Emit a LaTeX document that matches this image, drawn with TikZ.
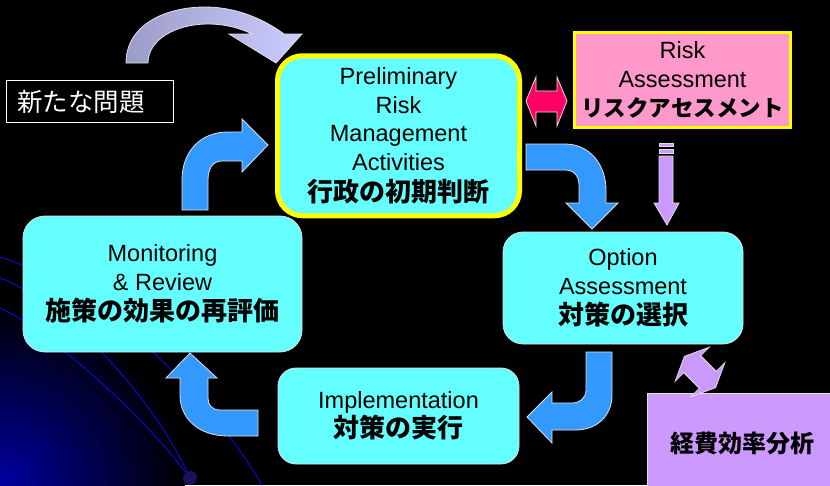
\documentclass[tikz,border=0pt]{standalone}
\usepackage{fontspec}
\setmainfont{Liberation Sans}
\newfontfamily\jpfont{Noto Sans CJK JP}
\newcommand\jpb[2]{{\jpfont\bfseries\fontsize{#1}{#1}\selectfont #2}}
\definecolor{cyanf}{HTML}{66FFFF}
\definecolor{pinkf}{HTML}{FF99CC}
\definecolor{pinkarrow}{HTML}{FF0066}
\definecolor{arrowblue}{HTML}{3399FF}
\definecolor{lav}{HTML}{CC99FF}
\definecolor{lavlight}{HTML}{CCCCFF}
\definecolor{lavdark}{HTML}{9C9CC8}
\definecolor{edgegray}{HTML}{E0E0E0}
\definecolor{navyc}{RGB}{0,0,160}
\definecolor{decoline}{RGB}{10,10,150}
\definecolor{dotc}{RGB}{20,20,90}
\definecolor{yel}{HTML}{FFFF00}
\begin{document}
\begin{tikzpicture}[x=1pt,y=-1pt,
  cbox/.style={draw=edgegray, fill=cyanf, line width=0.8pt, rounded corners=20pt,
    inner sep=0pt, align=center, text=black, font=\fontsize{23.5}{28.7}\selectfont},
  blockarrow/.style={fill=arrowblue, draw=edgegray, line width=0.8pt, line join=miter},
  lavarrow/.style={fill=lav, draw=edgegray, line width=0.8pt, line join=miter},
  deco/.style={draw=decoline, line width=1.4pt}]
\useasboundingbox (0,0) rectangle (830,485);
\fill[black] (0,0) rectangle (830,485);
\begin{scope}
  \clip (0,0) rectangle (830,485);
  \shade[inner color=navyc, outer color=black] (0,485) circle (185);
\end{scope}
% decorative background curves
\draw[deco] (0,257) .. controls (90,285) and (200,380) .. (262,485);
\draw[deco] (0,278) .. controls (60,300) and (150,390) .. (190,478);
\draw[deco] (0,308) .. controls (40,325) and (140,410) .. (190,478);
\fill[dotc] (190,478) circle (7);

% top curved lavender arrow
\shadedraw[left color=lavdark, right color=lavlight, draw=edgegray, line width=0.8pt]
  (126,63) .. controls (126,25) and (165,7) .. (205,7)
  .. controls (240,7) and (268,22) .. (284,34) -- (302,34) -- (276,63) -- (229,34) -- (252,34)
  .. controls (240,28) and (225,24) .. (208,24)
  .. controls (175,24) and (148,40) .. (148,63) -- cycle;

% new problem box
\node[draw=white, line width=1.2pt, fill=black, minimum width=167pt, minimum height=42pt,
  inner sep=0pt] (newbox) at (90,101.5) {};
\node[anchor=west, text=white, inner sep=0pt, font=\jpfont\fontsize{25.5}{25.5}\selectfont]
  (newtext) at (17,102) {新たな問題};

% main boxes
\node[cbox, draw=yel, line width=5pt, rounded corners=25pt, minimum width=242pt,
  minimum height=160pt] (prelim) at (398.5,135.75)
  {Preliminary\\Risk\\Management\\Activities\\[2pt]\jpb{26}{行政の初期判断}};
\node[cbox, draw=yel, fill=pinkf, line width=3pt, rounded corners=0pt, minimum width=216pt,
  minimum height=95pt] (risk) at (682.5,80)
  {Risk\\Assessment\\[1pt]\jpb{22.5}{リスクアセスメント}};
\node[cbox, minimum width=240pt, minimum height=112pt] (option) at (623,288)
  {Option\\Assessment\\[2pt]\jpb{26}{対策の選択}};
\node[cbox, rounded corners=18pt, minimum width=241pt, minimum height=96pt] (impl) at (398.5,416)
  {Implementation\\[0pt]\jpb{26}{対策の実行}};
\node[cbox, rounded corners=22pt, minimum width=279pt, minimum height=136pt] (monitor) at (162.5,284)
  {Monitoring\\\& Review\\[2pt]\jpb{26}{施策の効果の再評価}};

% cost-efficiency box
\node[draw=edgegray, fill=lav, line width=0.8pt, anchor=north west, inner sep=0pt,
  minimum width=200pt, minimum height=100pt] (costbox) at (647,393) {};
\node[inner sep=0pt] (costtext) at (742,443) {\jpb{24}{経費効率分析}};

% blue cycle arrows
\draw[blockarrow] (182,210) -- (182,180) .. controls (182,152) and (200,132) .. (228,132)
  -- (242,132) -- (242,119) -- (268,145) -- (242,172) -- (242,161) -- (222,161)
  .. controls (213,161) and (208,168) .. (208,180) -- (208,210) -- cycle;
\draw[blockarrow] (526,144) -- (565,144) .. controls (590,144) and (606,165) .. (606,190)
  -- (606,203) -- (618,203) -- (592,229) -- (566,203) -- (579,203) -- (579,185)
  .. controls (579,176) and (574,170) .. (565,170) -- (526,170) -- cycle;
\draw[blockarrow] (586,352) -- (612,352) -- (612,395) .. controls (612,415) and (598,430) .. (575,430)
  -- (552,430) -- (552,443) -- (527,417) -- (552,392) -- (552,403) -- (572,403)
  .. controls (580,403) and (586,398) .. (586,390) -- cycle;
\draw[blockarrow] (258,410) -- (258,436) -- (228,436) .. controls (198,436) and (180,418) .. (180,395)
  -- (180,378) -- (166,378) -- (190,353) -- (217,378) -- (208,378) -- (208,398)
  .. controls (208,405) and (212,410) .. (220,410) -- cycle;

% pink double arrow
\draw[fill=pinkarrow, draw=edgegray, line width=0.8pt]
  (526,101) -- (536,77) -- (536,91) -- (557,91) -- (557,77) -- (567,101)
  -- (557,126) -- (557,112) -- (536,112) -- (536,126) -- cycle;

% striped lavender down arrow
\draw[lavarrow] (659,143) rectangle (673,146);
\draw[lavarrow] (659,149) rectangle (673,153);
\draw[lavarrow] (659,156) -- (673,156) -- (673,203) -- (679,203) -- (667,225)
  -- (654,203) -- (659,203) -- cycle;

% diagonal lavender double arrow
\draw[lavarrow] (684.4,356.4) -- (709.2,347.2) -- (700.7,355.7) -- (716.3,371.3)
  -- (724.8,362.8) -- (715.6,387.6) -- (690.8,396.8) -- (699.3,388.3)
  -- (683.7,372.7) -- (675.2,381.2) -- cycle;
\end{tikzpicture}
\end{document}
